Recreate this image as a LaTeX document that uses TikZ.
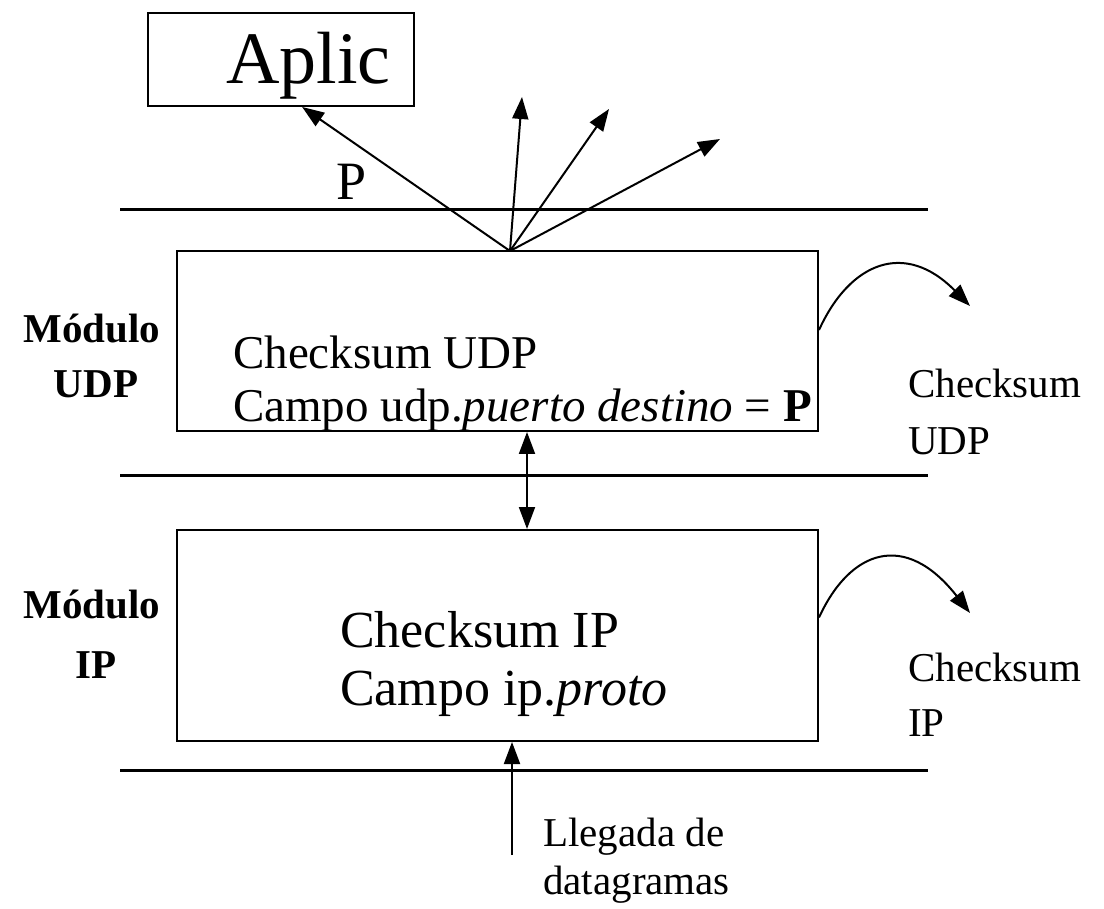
\documentclass[tikz,border=0pt]{standalone}
\usepackage{fontspec}
\setmainfont{Liberation Serif}
\usetikzlibrary{arrows.meta}
\begin{document}
\begin{tikzpicture}[x=1pt,y=-1pt,
    caja/.style={draw=black,line width=2pt,inner sep=0pt},
    capa/.style={line width=3pt},
    flecha/.style={-{Triangle[length=22pt,width=16pt]},line width=2pt},
    texto/.style={anchor=base west,inner sep=0pt,font=\fontsize{#1}{#1}\selectfont},
    modulo/.style={anchor=base,inner sep=0pt,font=\fontsize{41}{41}\selectfont\bfseries}
  ]
    \useasboundingbox (0,0) rectangle (1104,909);

    % capas
    \draw[capa] (120,210) -- (928,210);
    \draw[capa] (120,475) -- (928,475);
    \draw[capa] (120,770) -- (928,770);

    % cajas
    \node[caja,minimum width=266pt,minimum height=93pt] (aplic) at (281,59.5) {};
    \node[texto=74] (aplictxt) at (226,84) {Aplic};
    \node[caja,minimum width=641pt,minimum height=180pt] (udp) at (497.5,341) {};
    \node[caja,minimum width=641pt,minimum height=211pt] (ip) at (497.5,635.5) {};

    \node[texto=47] (udp1) at (233,369) {Checksum UDP};
    \node[texto=47] (udp2) at (233,422) {Campo udp.\textit{puerto destino} = \textbf{P}};
    \node[texto=52] (ip1) at (340,647) {Checksum IP};
    \node[texto=52] (ip2) at (340,705) {Campo ip.\textit{proto}};

    \node[modulo] (mudp) at (92,343) {Módulo};
    \node[modulo] (mudp2) at (96,398) {UDP};
    \node[modulo] (mip) at (92,618) {Módulo};
    \node[modulo] (mip2) at (96,678) {IP};

    % demultiplexado por puerto
    \coordinate (fan) at (510,251);
    \coordinate (p2) at (522,97);
    \coordinate (p3) at (609,109);
    \coordinate (p4) at (720,139);
    \draw[flecha] (fan) -- (aplic.-66);
    \draw[flecha] (fan) -- (p2);
    \draw[flecha] (fan) -- (p3);
    \draw[flecha] (fan) -- (p4);
    \node[texto=54] (puerto) at (336,200) {P};

    \draw[{Triangle[length=22pt,width=16pt]}-{Triangle[length=22pt,width=16pt]},line width=2pt]
      ([xshift=29.5pt]udp.south) -- ([xshift=29.5pt]ip.north);

    % descarte por checksum
    \coordinate (dudp) at (970,306);
    \coordinate (dip) at (970,613);
    \draw[flecha] ([yshift=11pt]udp.east) .. controls (850,262) and (905,240) .. (dudp);
    \draw[flecha] ([yshift=18pt]ip.east) .. controls (850,550) and (905,530) .. (dip);
    \node[texto=41] (cudp1) at (908,398) {Checksum};
    \node[texto=41] (cudp2) at (908,454) {UDP};
    \node[texto=41] (cip1) at (908,681) {Checksum};
    \node[texto=41] (cip2) at (908,736) {IP};

    % llegada
    \coordinate (llegada) at (512,855);
    \draw[flecha] (llegada) -- ([xshift=14.5pt]ip.south);
    \node[texto=41] (lleg1) at (543,846) {Llegada de};
    \node[texto=41] (lleg2) at (543,894) {datagramas};
  \end{tikzpicture}
\end{document}
